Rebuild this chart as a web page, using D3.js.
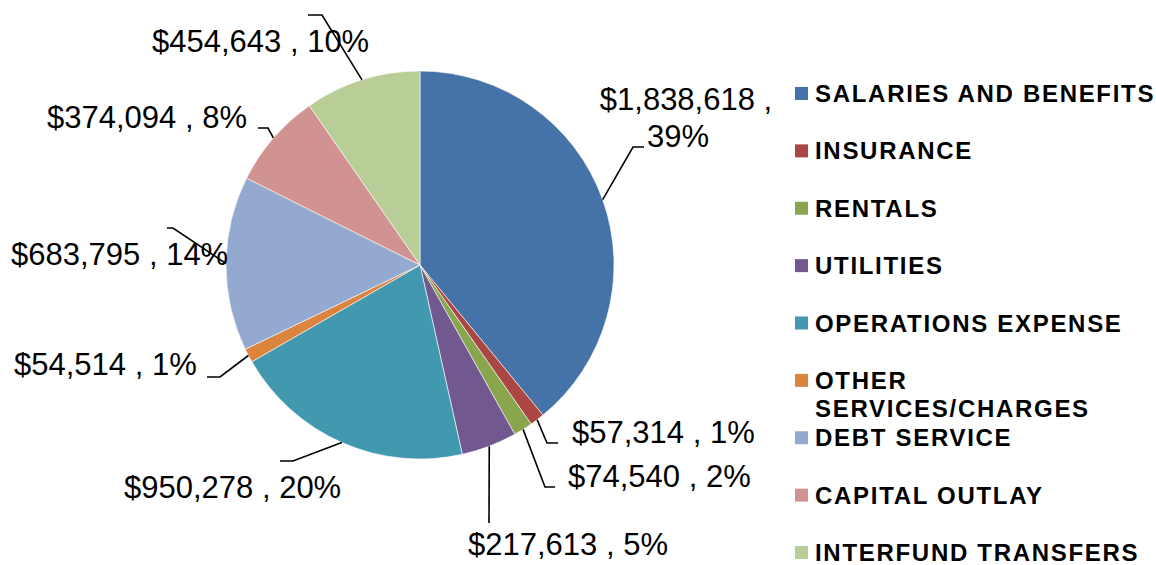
<!DOCTYPE html>
<html>
<head>
<meta charset="utf-8">
<script src="https://cdn.jsdelivr.net/npm/d3@7"></script>
<style>
  body { margin: 0; background: #fff; }
  svg { display: block; }
  text { font-family: "Liberation Sans", Arial, sans-serif; fill: #000; }
</style>
</head>
<body>
<svg id="chart" width="1156" height="565"></svg>
<script>
// expense categories, clockwise from 12 o'clock
var categories = ['SALARIES AND BENEFITS', 'INSURANCE', 'RENTALS', 'UTILITIES',
    'OPERATIONS EXPENSE', 'OTHER SERVICES/CHARGES', 'DEBT SERVICE', 'CAPITAL OUTLAY',
    'INTERFUND TRANSFERS'];
var amounts = [1838618, 57314, 74540, 217613, 950278, 54514, 683795, 374094, 454643];
// percent labels as printed on the chart
var pctLabels = [39, 1, 2, 5, 20, 1, 14, 8, 10];
var colors = ['#4572a7', '#aa4643', '#89a54e', '#71588f', '#4198af',
    '#db843d', '#93a9cf', '#d19392', '#b9cd96'];

// hand placed data labels (like excel), elbow / end of leader + text spot
var labelPos = [
    { elbow: [633, 147], end: [644, 147], tx: 686, ty: 110, anchor: 'middle', wrap: true },
    { elbow: [547, 443], end: [558, 443], tx: 572, ty: 443, anchor: 'start' },
    { elbow: [545, 487], end: [555, 487], tx: 568, ty: 487, anchor: 'start' },
    { elbow: [489, 523], end: [489, 523], tx: 468, ty: 555, anchor: 'start' },
    { elbow: [293, 461], end: [280, 461], tx: 124, ty: 498, anchor: 'start' },
    { elbow: [220, 377], end: [207, 377], tx: 14, ty: 375, anchor: 'start' },
    { elbow: [173, 228], end: [167, 228], tx: 11, ty: 265, anchor: 'start' },
    { elbow: [268, 128], end: [258, 128], tx: 47, ty: 128, anchor: 'start' },
    { elbow: [322, 15], end: [308, 15], tx: 152, ty: 52, anchor: 'start' }
];

var svg = d3.select('#chart');
var cx = 420, cy = 265, r = 194;

var pie = d3.pie().sort(null).value(function (d) { return d; });
var arcs = pie(amounts);
var arc = d3.arc().innerRadius(0).outerRadius(r);
var edge = d3.arc().innerRadius(r).outerRadius(r);

var g = svg.append('g').attr('transform', 'translate(' + cx + ',' + cy + ')');

g.selectAll('path.slice')
    .data(arcs)
    .enter().append('path')
    .attr('class', 'slice')
    .attr('d', arc)
    .attr('fill', function (d, i) { return colors[i]; })
    .attr('stroke', '#fff')
    .attr('stroke-width', 0.6);

//leader lines
var fmt = d3.format(',');
arcs.forEach(function (d, i) {
    var p = edge.centroid(d);
    var lp = labelPos[i];
    var pts = [[p[0] + cx, p[1] + cy], lp.elbow, lp.end];
    svg.append('path')
        .attr('d', d3.line()(pts))
        .attr('fill', 'none')
        .attr('stroke', '#000')
        .attr('stroke-width', 1.6);
});

//data labels
arcs.forEach(function (d, i) {
    var lp = labelPos[i];
    var txt = svg.append('text')
        .attr('x', lp.tx)
        .attr('y', lp.ty)
        .attr('text-anchor', lp.anchor)
        .style('font-size', '31px');
    var money = '$' + fmt(amounts[i]);
    if (lp.wrap) {
        txt.append('tspan').attr('x', lp.tx).text(money + ' ,');
        txt.append('tspan').attr('x', lp.tx - 8).attr('dy', 37).text(pctLabels[i] + '%');
    } else {
        txt.text(money + ' , ' + pctLabels[i] + '%');
    }
});

//legend
var legend = svg.append('g').attr('transform', 'translate(795,0)');
var rowY = d3.scaleLinear().domain([0, 8]).range([93, 552]);
var items = legend.selectAll('g.item')
    .data(categories)
    .enter().append('g')
    .attr('class', 'item')
    .attr('transform', function (d, i) { return 'translate(0,' + rowY(i) + ')'; });

items.append('rect')
    .attr('x', 0).attr('y', -6)
    .attr('width', 13).attr('height', 13)
    .attr('fill', function (d, i) { return colors[i]; });

items.append('text')
    .attr('x', 20)
    .attr('y', 9)
    .style('font-size', '24px')
    .style('font-weight', 'bold')
    .style('letter-spacing', '1.7px')
    .each(function (d) {
        var t = d3.select(this);
        if (d === 'OTHER SERVICES/CHARGES') {
            t.append('tspan').attr('x', 20).text('OTHER');
            t.append('tspan').attr('x', 20).attr('dy', 28).text('SERVICES/CHARGES');
        } else {
            t.text(d);
        }
    });
</script>
</body>
</html>
